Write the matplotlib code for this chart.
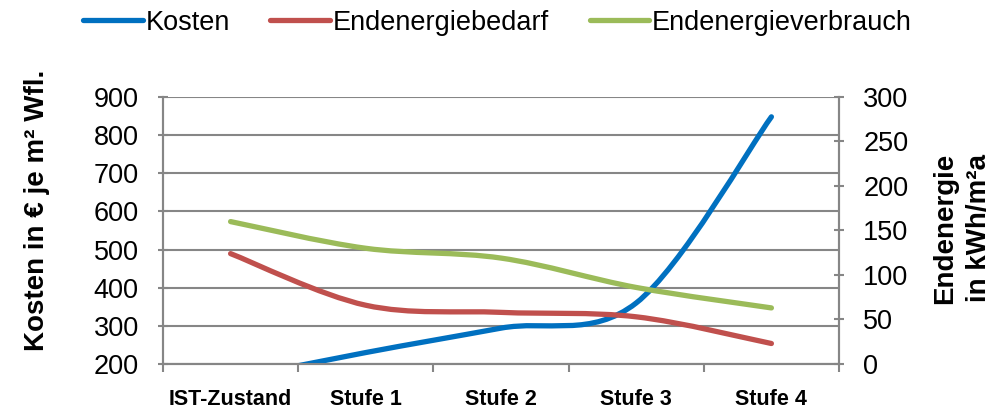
import matplotlib.pyplot as plt
import numpy as np
from matplotlib.path import Path
from matplotlib.patches import PathPatch
from matplotlib.lines import Line2D

plt.rcParams['font.family'] = ['Liberation Sans', 'DejaVu Sans']

stufen = ["IST-Zustand", "Stufe 1", "Stufe 2", "Stufe 3", "Stufe 4"]
kosten = [160, 230, 294, 360, 848]              # € je m² Wfl. (linke Achse)
endenergiebedarf = [124, 66, 58, 53, 23]        # kWh/m²a (rechte Achse)
endenergieverbrauch = [160, 130, 119, 86, 63]   # kWh/m²a (rechte Achse)

blau = "#0070C0"
rot = "#C0504D"
gruen = "#9BBB59"
grau = "#868686"


def smooth_path(xs, ys):
    # Excel-like smoothed line: cubic bezier through the points
    pts = np.column_stack([xs, ys]).astype(float)
    n = len(pts)
    verts = [pts[0]]
    codes = [Path.MOVETO]
    for i in range(n - 1):
        p_prev = pts[max(i - 1, 0)]
        p0 = pts[i]
        p1 = pts[i + 1]
        p_next = pts[min(i + 2, n - 1)]
        c1 = p0 + (p1 - p_prev) / 6
        c2 = p1 - (p_next - p0) / 6
        verts += [c1, c2, p1]
        codes += [Path.CURVE4] * 3
    return Path(verts, codes)


fig = plt.figure(figsize=(10.03, 4.11), dpi=100)
ax = fig.add_axes([0.1625, 0.1144, 0.674, 0.6496])
ax2 = ax.twinx()

x = np.arange(len(stufen))
lw = 3.8

ax.add_patch(PathPatch(smooth_path(x, kosten), fill=False, edgecolor=blau,
                       lw=lw, capstyle='round', joinstyle='round', zorder=3))
ax2.add_patch(PathPatch(smooth_path(x, endenergiebedarf), fill=False, edgecolor=rot,
                        lw=lw, capstyle='round', joinstyle='round', zorder=3))
ax2.add_patch(PathPatch(smooth_path(x, endenergieverbrauch), fill=False, edgecolor=gruen,
                        lw=lw, capstyle='round', joinstyle='round', zorder=3))

ax.set_xlim(-0.5, len(stufen) - 0.5)
ax.set_ylim(200, 900)
ax2.set_ylim(0, 300)
ax.set_yticks(range(200, 901, 100))
ax2.set_yticks(range(0, 301, 50))

ax.yaxis.grid(True, color=grau, lw=1.5)
ax.set_axisbelow(True)

ax.set_xticks(x)
ax.set_xticklabels(stufen, fontsize=15.5, fontweight='bold')
ax.set_xticks(np.arange(-0.5, len(stufen)), minor=True)
ax.tick_params(axis='x', which='major', length=0, pad=18)
ax.tick_params(axis='x', which='minor', length=6, width=1.5, color=grau, direction='out')

ax.tick_params(axis='y', labelsize=19.5, length=7, width=1.5, color=grau, direction='inout', pad=14)
ax2.tick_params(axis='y', labelsize=19.5, length=7, width=1.5, color=grau, direction='inout', pad=14)

for a in (ax, ax2):
    a.spines['top'].set_visible(False)
    for s in ('left', 'right', 'bottom'):
        a.spines[s].set_color(grau)
        a.spines[s].set_linewidth(1.5)

fig.text(0.037, 0.487, "Kosten in € je m² Wfl.", rotation=90, fontsize=20,
         fontweight='bold', ha='center', va='center')
fig.text(0.942, 0.445, "Endenergie", rotation=90, fontsize=20,
         fontweight='bold', ha='center', va='center')
fig.text(0.976, 0.445, "in kWh/m²a", rotation=90, fontsize=20,
         fontweight='bold', ha='center', va='center')

handles = [Line2D([], [], color=blau, lw=lw, solid_capstyle='round'),
           Line2D([], [], color=rot, lw=lw, solid_capstyle='round'),
           Line2D([], [], color=gruen, lw=lw, solid_capstyle='round')]
fig.legend(handles, ["Kosten", "Endenergiebedarf", "Endenergieverbrauch"],
           loc='center', bbox_to_anchor=(0.496, 0.945), ncol=3, frameon=False,
           fontsize=19.5, handlelength=2.2, handletextpad=0.1, columnspacing=1.5)

fig.savefig("out.png", dpi=100)
